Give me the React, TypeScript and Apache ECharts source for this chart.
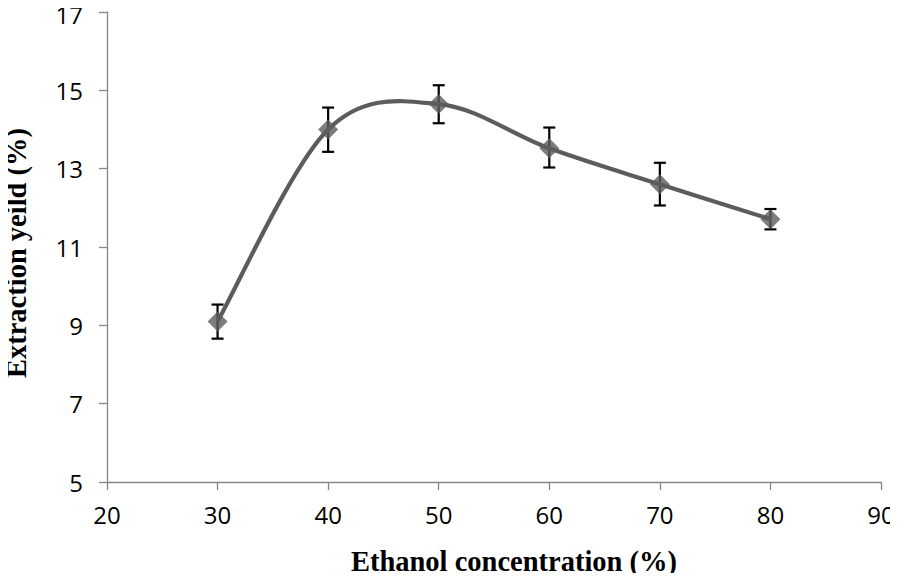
import React, { useEffect, useRef } from "react";
import * as echarts from "echarts";

const xValues = [30, 40, 50, 60, 70, 80];
const yValues = [9.1, 14.0, 14.65, 13.52, 12.6, 11.71];
const errLow = [8.66, 13.43, 14.16, 13.03, 12.06, 11.45];
const errHigh = [9.53, 14.56, 15.13, 14.05, 13.15, 11.97];
const xTicks = { min: 20, max: 90, interval: 10 };
const yTicks = { min: 5, max: 17, interval: 2 };
const xTitle = "Ethanol concentration (%)";
const yTitle = "Extraction yeild (%)";

export default function App() {
  const ref = useRef<HTMLDivElement>(null);
  useEffect(() => {
    if (!ref.current) return;
    const chart = echarts.init(ref.current, null, { renderer: "svg" });
    const lineColor = "#5c5c5c";
    const axisColor = "#878787";
    const labelFont = { fontFamily: "Open Sans", fontSize: 24, color: "#000" };
    chart.setOption({
      animation: false,
      grid: {
        left: 107,
        right: 17,
        top: 12,
        bottom: 99,
        containLabel: false,
        outerBoundsMode: "none",
      },
      xAxis: {
        type: "value",
        min: xTicks.min,
        max: xTicks.max,
        interval: xTicks.interval,
        axisLine: { show: true, lineStyle: { color: axisColor, width: 1.3 } },
        axisTick: { show: true, length: 8, lineStyle: { color: axisColor, width: 1.3 } },
        axisLabel: { ...labelFont, margin: 20 },
        splitLine: { show: false },
      },
      yAxis: {
        type: "value",
        min: yTicks.min,
        max: yTicks.max,
        interval: yTicks.interval,
        axisLine: { show: true, lineStyle: { color: axisColor, width: 1.3 } },
        axisTick: { show: true, length: 8, lineStyle: { color: axisColor, width: 1.3 } },
        axisLabel: {
          ...labelFont,
          margin: 24,
          lineHeight: 20,
          formatter: (v: number) => (v === yTicks.max ? `{top|${v}}` : `${v}`),
          rich: {
            top: { fontFamily: "Open Sans", fontSize: 24, color: "#000", lineHeight: 20, padding: [4, 0, 0, 0] },
          },
        },
        splitLine: { show: false },
      },
      graphic: [
        {
          type: "text",
          x: 514,
          y: 561,
          style: {
            text: xTitle,
            font: "bold 28.5px 'Liberation Serif'",
            fill: "#000",
            textAlign: "center",
            textVerticalAlign: "middle",
          },
        },
        {
          type: "text",
          x: 16,
          y: 253,
          rotation: Math.PI / 2,
          style: {
            text: yTitle,
            font: "bold 28.5px 'Liberation Serif'",
            fill: "#000",
            textAlign: "center",
            textVerticalAlign: "middle",
          },
        },
      ],
      series: [
        {
          type: "custom",
          name: "errors",
          z: 2,
          data: xValues.map((x, i) => [x, errLow[i], errHigh[i]]),
          renderItem: (params: any, api: any) => {
            const x = api.value(0);
            const lo = api.coord([x, api.value(1)]);
            const hi = api.coord([x, api.value(2)]);
            const cap = 6;
            const style = { stroke: "#000", lineWidth: 2.2 };
            return {
              type: "group",
              children: [
                { type: "line", shape: { x1: lo[0], y1: lo[1], x2: hi[0], y2: hi[1] }, style },
                { type: "line", shape: { x1: lo[0] - cap, y1: lo[1], x2: lo[0] + cap, y2: lo[1] }, style },
                { type: "line", shape: { x1: hi[0] - cap, y1: hi[1], x2: hi[0] + cap, y2: hi[1] }, style },
              ],
            };
          },
        },
        {
          type: "custom",
          name: "curve",
          z: 3,
          data: xValues.map((x, i) => [x, yValues[i]]),
          renderItem: (params: any, api: any) => {
            if (params.dataIndex !== 0) return null;
            const pts = xValues.map((x, i) => api.coord([x, yValues[i]]));
            const t = 1 / 6;
            let d = `M${pts[0][0]},${pts[0][1]}`;
            for (let i = 0; i < pts.length - 1; i++) {
              const p0 = pts[Math.max(i - 1, 0)];
              const p1 = pts[i];
              const p2 = pts[i + 1];
              const p3 = pts[Math.min(i + 2, pts.length - 1)];
              const c1x = p1[0] + (p2[0] - p0[0]) * t;
              const c1y = p1[1] + (p2[1] - p0[1]) * t;
              const c2x = p2[0] - (p3[0] - p1[0]) * t;
              const c2y = p2[1] - (p3[1] - p1[1]) * t;
              d += ` C${c1x},${c1y} ${c2x},${c2y} ${p2[0]},${p2[1]}`;
            }
            return {
              type: "path",
              shape: { pathData: d },
              style: { stroke: lineColor, lineWidth: 4.2, fill: "none" },
            };
          },
        },
        {
          type: "scatter",
          name: "points",
          z: 4,
          symbol: "diamond",
          symbolSize: 20,
          itemStyle: { color: lineColor },
          data: xValues.map((x, i) => [x, yValues[i]]),
        },
      ],
    });
    return () => chart.dispose();
  }, []);
  return <div ref={ref} style={{ width: 898, height: 581, margin: -8 }} />;
}
